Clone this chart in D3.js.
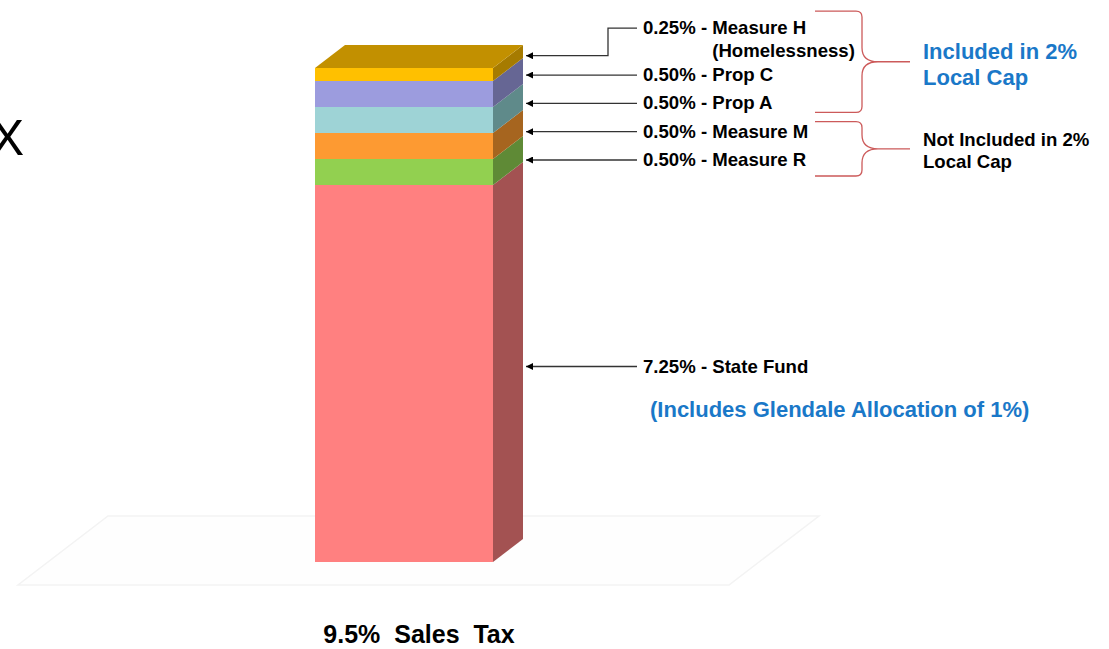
<!DOCTYPE html>
<html>
<head>
<meta charset="utf-8">
<script src="https://cdn.jsdelivr.net/npm/d3@7"></script>
<style>
  body { margin: 0; background: #fff; }
  text { font-family: "Liberation Sans", Arial, sans-serif; }
</style>
</head>
<body>
<div id="viz"></div>
<script>
// data
const category = "9.5%  Sales  Tax";
const segments = ["State Fund", "Measure R", "Measure M", "Prop A", "Prop C", "Measure H"];
const rates = [7.25, 0.50, 0.50, 0.50, 0.50, 0.25];
const subLabels = ["", "", "", "", "", "(Homelessness)"];
const groupTitles = [["Included in 2%", "Local Cap"], ["Not Included in 2%", "Local Cap"]];
const groupMembers = [["Measure H", "Prop C", "Prop A"], ["Measure M", "Measure R"]];
const stateNote = "(Includes Glendale Allocation of 1%)";

// colours
const frontColor = {"State Fund": "#ff8080", "Measure R": "#92d050", "Measure M": "#fd9a32",
  "Prop A": "#9ed3d6", "Prop C": "#9c9cde", "Measure H": "#ffc000"};
const sideColor = {"State Fund": "#a35252", "Measure R": "#5f8a36", "Measure M": "#a6651f",
  "Prop A": "#5f8a8a", "Prop C": "#666694", "Measure H": "#a67b00"};
const topColor = "#c29000";

const width = 1109, height = 649;
const dx = 30, dy = 23; // 3d depth

const svg = d3.select("#viz").append("svg")
  .attr("width", width).attr("height", height);

const row = {cat: category};
segments.forEach((s, i) => row[s] = rates[i]);
const stacked = d3.stack().keys(segments)([row]);

const x = d3.scaleBand().domain([category]).range([315, 493]);
const y = d3.scaleLinear().domain([0, d3.sum(rates)]).range([562, 68]);

const x0 = x(category), x1 = x0 + x.bandwidth();

// floor
const floorL = 18, floorR = 729;
const fy = y(0) + dy, by = y(0) - 2 * dy;
svg.append("polygon")
  .attr("points", [[floorL, fy], [floorR, fy], [floorR + 3 * dx, by], [floorL + 3 * dx, by]].join(" "))
  .attr("fill", "#fefefe").attr("stroke", "#f3f3f3").attr("stroke-width", 1.5);

// bar pieces
const bar = svg.append("g");
stacked.forEach(s => {
  const lo = s[0][0], hi = s[0][1];
  bar.append("rect")
    .attr("x", x0).attr("y", y(hi))
    .attr("width", x.bandwidth()).attr("height", y(lo) - y(hi))
    .attr("fill", frontColor[s.key]);
  bar.append("polygon")
    .attr("points", [[x1, y(hi)], [x1 + dx, y(hi) - dy], [x1 + dx, y(lo) - dy], [x1, y(lo)]].join(" "))
    .attr("fill", sideColor[s.key]);
});
const stackTop = stacked[stacked.length - 1][0][1];
bar.append("polygon")
  .attr("points", [[x0, y(stackTop)], [x0 + dx, y(stackTop) - dy], [x1 + dx, y(stackTop) - dy], [x1, y(stackTop)]].join(" "))
  .attr("fill", topColor);

// arrow marker
svg.append("defs").append("marker")
  .attr("id", "ah").attr("viewBox", "0 0 10 10")
  .attr("refX", 10).attr("refY", 5)
  .attr("markerUnits", "userSpaceOnUse")
  .attr("markerWidth", 9).attr("markerHeight", 7)
  .attr("orient", "auto")
  .append("path").attr("d", "M0,0L10,5L0,10z").attr("fill", "#000");

// callouts
const fmt = d3.format(".2f");
const tipX = x1 + dx + 3, lineEnd = 637, textX = 643, step = 28.3;
const lineY = {}; // y of the line next to each label
const ann = svg.append("g");

stacked.forEach((s, i) => {
  const name = s.key, lo = s[0][0], hi = s[0][1];
  let arrowY, ly;
  if (i === 0) {
    arrowY = (y(lo) + y(hi)) / 2 - dy + 16;
    ly = arrowY;
  } else if (subLabels[i]) {
    const prev = lineY[segments[i - 1]];
    arrowY = prev - 19.4;
    ly = prev - 47;
  } else {
    arrowY = y(rates[0]) - dy - 2 - (i - 1) * step;
    ly = arrowY;
  }
  lineY[name] = ly;
  const pts = ly === arrowY
    ? [[lineEnd, ly], [tipX, arrowY]]
    : [[lineEnd, ly], [tipX + 82, ly], [tipX + 82, arrowY], [tipX, arrowY]];
  ann.append("path")
    .attr("d", d3.line()(pts))
    .attr("fill", "none").attr("stroke", "#333").attr("stroke-width", 1.3)
    .attr("marker-end", "url(#ah)");
  const t = ann.append("text")
    .attr("x", textX).attr("y", ly + 6)
    .attr("font-size", 18.6).attr("font-weight", "bold").attr("fill", "#000");
  const head = t.append("tspan").text(fmt(rates[i]) + "% - ");
  t.append("tspan").text(name);
  if (subLabels[i]) {
    const w = head.node().getComputedTextLength();
    ann.append("text")
      .attr("x", textX + w).attr("y", ly + 6 + 22.4)
      .attr("font-size", 18.6).attr("font-weight", "bold").attr("fill", "#000")
      .text(subLabels[i]);
  }
  if (i === 0) {
    ann.append("text")
      .attr("x", 650).attr("y", ly + 50)
      .attr("font-size", 22).attr("font-weight", "bold").attr("fill", "#1a78c8")
      .text(stateNote);
  }
});

// braces
const braceX0 = 815, spine = 862, tip = 910;
const brace = (t, b) => {
  const m = (t + b) / 2;
  return `M${braceX0},${t}L${spine - 6},${t}Q${spine},${t} ${spine},${t + 6}` +
    `L${spine},${m - 14}Q${spine},${m} ${spine + 16},${m}L${tip},${m}` +
    `M${spine + 16},${m}Q${spine},${m} ${spine},${m + 14}` +
    `L${spine},${b - 6}Q${spine},${b} ${spine - 6},${b}L${braceX0},${b}`;
};
groupMembers.forEach((members, g) => {
  const ys = members.map(m => lineY[m]);
  const t = d3.min(ys) - (g === 0 ? 17 : 10), b = d3.max(ys) + (g === 0 ? 9 : 16), m = (t + b) / 2;
  svg.append("path").attr("d", brace(t, b))
    .attr("fill", "none").attr("stroke", "#cc5a5a").attr("stroke-width", 1.3);
  const fs = g === 0 ? 22 : 18.6;
  const tx = svg.append("text")
    .attr("x", 923).attr("y", m - 3)
    .attr("font-size", fs).attr("font-weight", "bold")
    .attr("fill", g === 0 ? "#1a78c8" : "#000");
  groupTitles[g].forEach((line, k) => {
    tx.append("tspan").attr("x", 923).attr("dy", k === 0 ? 0 : fs * 1.2).text(line);
  });
});

// category label
svg.append("text")
  .attr("x", (x0 + x1 + dx) / 2).attr("y", 642.7)
  .attr("text-anchor", "middle")
  .attr("font-size", 25).attr("font-weight", "bold")
  .style("white-space", "pre")
  .text(category);

// letter partly cut off at the left edge, as in the source slide
svg.append("text")
  .attr("x", 24).attr("y", 155)
  .attr("text-anchor", "end")
  .attr("font-size", 50).attr("fill", "#000")
  .text("X");
</script>
</body>
</html>
